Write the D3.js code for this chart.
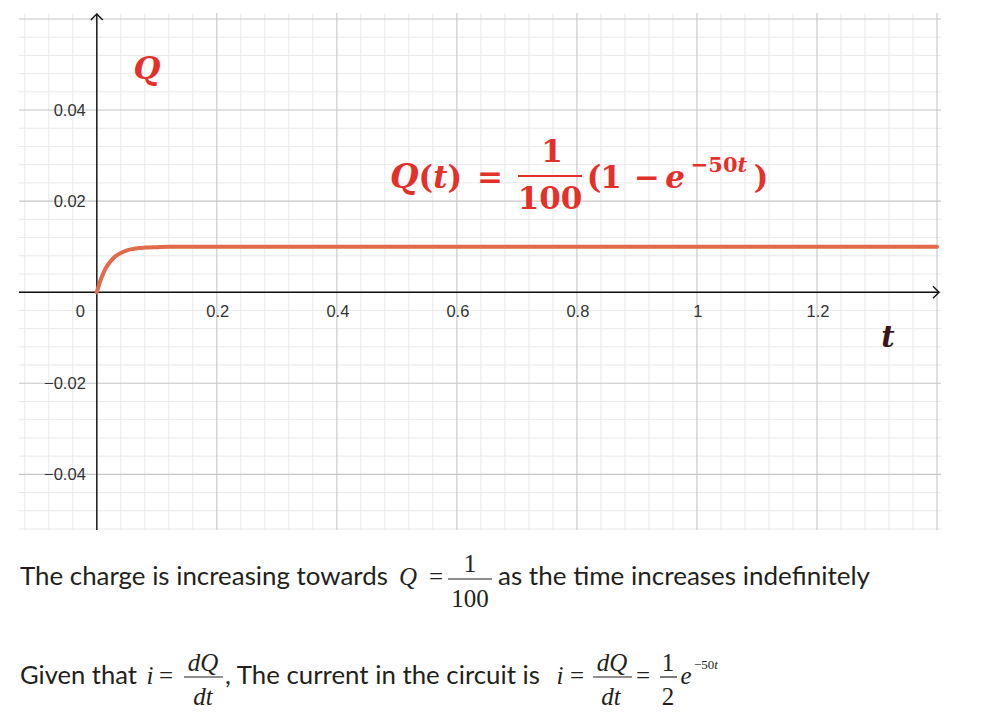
<!DOCTYPE html>
<html><head><meta charset="utf-8">
<script src="https://cdn.jsdelivr.net/npm/d3@7"></script>
<style>
html,body{margin:0;padding:0;background:#fff;}
svg{display:block;}
</style></head>
<body>
<svg id="chart" width="1005" height="727"></svg>
<script>
// ---- data ----
const tValues = [0, 0.005, 0.01, 0.015, 0.02, 0.025, 0.03, 0.04, 0.05, 0.06, 0.07, 0.08, 0.1, 0.12, 0.15, 0.2, 0.4, 0.8, 1.2, 1.4];
const qValues = [0, 0.0022, 0.0039, 0.0053, 0.0063, 0.0071, 0.0078, 0.0086, 0.0092, 0.0095, 0.0097, 0.0098, 0.0099, 0.00998, 0.01, 0.01, 0.01, 0.01, 0.01, 0.01];
const xTickValues = [0.2, 0.4, 0.6, 0.8, 1, 1.2];
const xTickLabels = ["0.2", "0.4", "0.6", "0.8", "1", "1.2"];
const yTickValues = [0.04, 0.02, -0.02, -0.04];
const yTickLabels = ["0.04", "0.02", "\u22120.02", "\u22120.04"];
const xDomain = [-0.128, 1.4];
const yDomain = [-0.052, 0.06];

const svg = d3.select("#chart");
const x = d3.scaleLinear().domain(xDomain).range([20, 937]);
const y = d3.scaleLinear().domain(yDomain).range([529, 19]);

// grid
const xMinor = d3.range(-3, 36).map(i => +(i * 0.04).toFixed(3));
const yMinor = d3.range(-13, 16).map(i => +(i * 0.004).toFixed(3));
const isMajorX = v => Math.abs(Math.round(v / 0.2) * 0.2 - v) < 1e-6;
const isMajorY = v => Math.abs(Math.round(v / 0.02) * 0.02 - v) < 1e-6;

const grid = svg.append("g");
grid.selectAll("line.vx").data(xMinor.filter(v => !isMajorX(v))).join("line")
  .attr("x1", d => x(d)).attr("x2", d => x(d)).attr("y1", 13).attr("y2", 530)
  .attr("stroke", "#e9e9e9").attr("stroke-width", 1);
grid.selectAll("line.hy").data(yMinor.filter(v => !isMajorY(v))).join("line")
  .attr("y1", d => y(d)).attr("y2", d => y(d)).attr("x1", 19).attr("x2", 941)
  .attr("stroke", "#e9e9e9").attr("stroke-width", 1);
grid.selectAll("line.vxm").data(xMinor.filter(v => isMajorX(v))).join("line")
  .attr("x1", d => x(d)).attr("x2", d => x(d)).attr("y1", 13).attr("y2", 530)
  .attr("stroke", "#c6c6c6").attr("stroke-width", 1.1);
grid.selectAll("line.hym").data(yMinor.filter(v => isMajorY(v))).join("line")
  .attr("y1", d => y(d)).attr("y2", d => y(d)).attr("x1", 19).attr("x2", 941)
  .attr("stroke", "#c6c6c6").attr("stroke-width", 1.1);

// axes
const ax = svg.append("g").attr("stroke", "#111").attr("stroke-width", 1.4).attr("fill", "none");
ax.append("line").attr("x1", 19).attr("x2", x(1.4) + 2).attr("y1", y(0)).attr("y2", y(0));
ax.append("line").attr("x1", x(0)).attr("x2", x(0)).attr("y1", 14).attr("y2", 530);
ax.append("path").attr("d", `M${x(0)-6},${20} L${x(0)},${14} L${x(0)+6},${20}`);
ax.append("path").attr("d", `M${x(1.4)-4},${y(0)-6} L${x(1.4)+2},${y(0)} L${x(1.4)-4},${y(0)+6}`);

// tick labels
const tl = svg.append("g").attr("font-family", "'Liberation Sans', Arial, sans-serif").attr("font-size", 16.5).attr("fill", "#333");
tl.selectAll("text.xl").data(xTickValues).join("text")
  .attr("x", d => x(d) + 1).attr("y", y(0) + 25).attr("text-anchor", "middle")
  .text((d, i) => xTickLabels[i]);
tl.append("text").attr("x", x(0) - 12).attr("y", y(0) + 25).attr("text-anchor", "end").text("0");
tl.selectAll("text.yl").data(yTickValues).join("text")
  .attr("x", x(0) - 11).attr("y", d => y(d) + 6).attr("text-anchor", "end")
  .text((d, i) => yTickLabels[i]);

// curve
const line = d3.line().x(d => x(d[0])).y(d => y(d[1])).curve(d3.curveMonotoneX);
svg.append("path").datum(tValues.map((t, i) => [t, qValues[i]]))
  .attr("d", line).attr("fill", "none").attr("stroke", "#e2694a")
  .attr("stroke-width", 4).attr("stroke-linecap", "round");

// axis names
svg.append("text").attr("x", 147).attr("y", 79).attr("text-anchor", "middle")
  .attr("font-family", "'DejaVu Serif', serif").attr("font-weight", "bold").attr("font-style", "italic")
  .attr("font-size", 31).attr("fill", "#e5302a").text("Q");
svg.append("text").attr("x", 888).attr("y", 347).attr("text-anchor", "middle")
  .attr("font-family", "'DejaVu Serif', serif").attr("font-weight", "bold").attr("font-style", "italic")
  .attr("font-size", 29).attr("fill", "#3a1616").text("t");

// formula in plot
const red = "#e5302a";
const f = svg.append("g").attr("font-family", "'DejaVu Serif', serif").attr("font-weight", "bold")
  .attr("font-size", 31).attr("fill", red).attr("text-anchor", "middle");
const piece = (txt, cx, by, it, size) => f.append("text").attr("x", cx).attr("y", by)
  .attr("font-style", it ? "italic" : "normal").attr("font-size", size || 31).text(txt);
const qt = f.append("text").attr("x", 390).attr("y", 188).attr("text-anchor", "start")
  .attr("textLength", 72).attr("lengthAdjust", "spacingAndGlyphs");
qt.append("tspan").attr("font-style", "italic").attr("font-size", 33).text("Q");
qt.append("tspan").text("(");
qt.append("tspan").attr("font-style", "italic").text("t");
qt.append("tspan").text(")");
piece("=", 490, 188, false);
piece("1", 552, 162, false);
piece("100", 550, 209, false);
f.append("line").attr("x1", 518).attr("x2", 582).attr("y1", 176).attr("y2", 176).attr("stroke", red).attr("stroke-width", 2);
piece("(", 594, 188, false);
piece("1", 611, 188, false);
piece("\u2212", 647, 188, false);
piece("e", 675, 188, true);
const sup = f.append("text").attr("x", 719).attr("y", 172).attr("font-size", 21);
sup.append("tspan").text("\u221250");
sup.append("tspan").attr("font-style", "italic").text("t");
piece(")", 761, 188, false);

// explanatory text below
const ink = "#231f20";
const prose = svg.append("g").attr("font-family", "Lato, 'Open Sans', sans-serif").attr("font-size", 25).attr("fill", ink);
const pt = (txt, x0, by, len) => prose.append("text").attr("x", x0).attr("y", by)
  .attr("textLength", len).attr("lengthAdjust", "spacingAndGlyphs").text(txt);
pt("The charge is increasing towards", 20, 585, 368);
pt("as the time increases indefinitely", 498, 585, 372);
pt("Given that", 20, 684, 117);
pt(", The current in the circuit is", 225, 684, 315);

const m = svg.append("g").attr("font-family", "'Liberation Serif', 'Times New Roman', serif").attr("font-size", 25)
  .attr("fill", ink).attr("text-anchor", "middle");
const mt = (txt, cx, by, it, size) => m.append("text").attr("x", cx).attr("y", by)
  .attr("font-style", it ? "italic" : "normal").attr("font-size", size || 25).text(txt);
const bar = (x1, x2, yy) => m.append("line").attr("x1", x1).attr("x2", x2).attr("y1", yy).attr("y2", yy).attr("stroke", ink).attr("stroke-width", 1.2);
// line 1
mt("Q", 408, 585, true);
mt("=", 436, 585, false);
mt("1", 470, 572, false);
bar(448, 492, 579);
mt("100", 470, 607, false);
// line 2
mt("i", 150, 684, true);
mt("=", 166, 684, false);
mt("dQ", 203, 671, true);
bar(184, 223, 677);
mt("dt", 203, 705, true);
mt("i", 560, 684, true);
mt("=", 577, 684, false);
mt("dQ", 612, 671, true);
bar(593, 632, 677);
mt("dt", 611, 705, true);
mt("=", 643, 684, false);
mt("1", 668, 671, false);
bar(660, 677, 677);
mt("2", 668, 705, false);
mt("e", 686, 684, true);
const s2 = m.append("text").attr("x", 694).attr("y", 669).attr("font-size", 13).attr("text-anchor", "start");
s2.append("tspan").text("\u221250");
s2.append("tspan").attr("font-style", "italic").text("t");
</script>
</body></html>
